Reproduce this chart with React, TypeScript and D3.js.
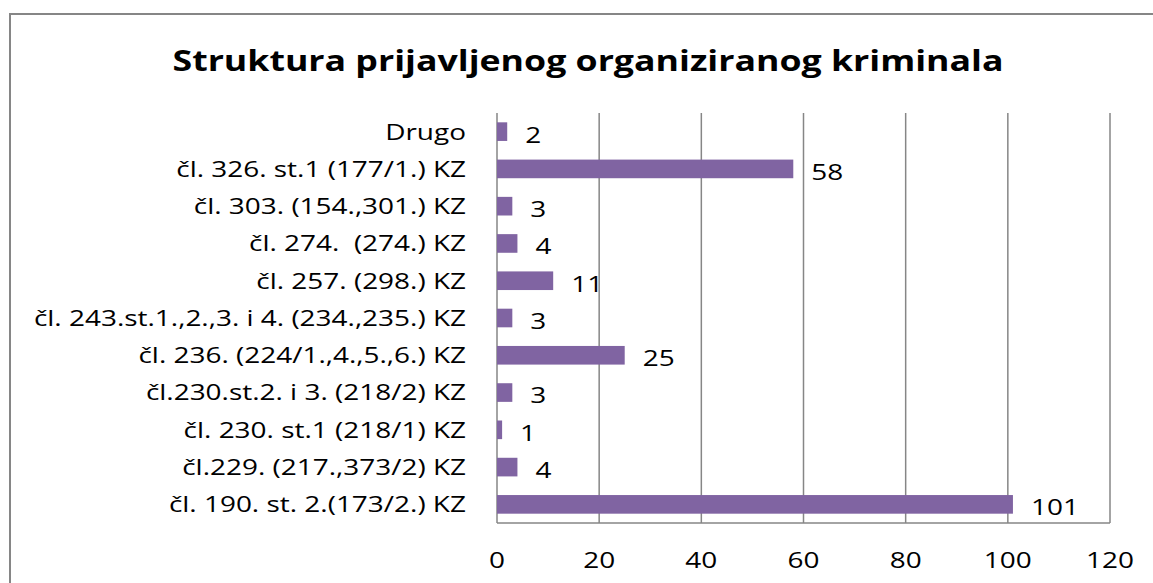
import React, { useEffect, useRef } from 'react'
import * as d3 from 'd3'

const categories = [
  'Drugo',
  'čl. 326. st.1 (177/1.) KZ',
  'čl. 303. (154.,301.) KZ',
  'čl. 274.  (274.) KZ',
  'čl. 257. (298.) KZ',
  'čl. 243.st.1.,2.,3. i 4. (234.,235.) KZ',
  'čl. 236. (224/1.,4.,5.,6.) KZ',
  'čl.230.st.2. i 3. (218/2) KZ',
  'čl. 230. st.1 (218/1) KZ',
  'čl.229. (217.,373/2) KZ',
  'čl. 190. st. 2.(173/2.) KZ',
]
const values = [2, 58, 3, 4, 11, 3, 25, 3, 1, 4, 101]
const xTicks = [0, 20, 40, 60, 80, 100, 120]
const title = 'Struktura prijavljenog organiziranog kriminala'

const App = () => {
  const ref = useRef<SVGSVGElement>(null)

  useEffect(() => {
    const W = 1153
    const H = 583
    const font = "'Open Sans', 'DejaVu Sans', sans-serif"
    const grey = '#868686'
    const fs = 22
    const stretch = 1.27 // the source font is wider than Open Sans

    const svg = d3.select(ref.current)
    svg.selectAll('*').remove()

    svg.append('rect')
      .attr('width', W).attr('height', H).attr('fill', '#fff')

    // chart frame, cut off at right and bottom
    svg.append('rect')
      .attr('x', 10).attr('y', 14)
      .attr('width', W + 20).attr('height', H + 20)
      .attr('fill', 'none').attr('stroke', grey).attr('stroke-width', 2)

    svg.append('text')
      .attr('x', 588).attr('y', 71)
      .attr('text-anchor', 'middle')
      .attr('font-family', font).attr('font-weight', 'bold').attr('font-size', 29)
      .attr('textLength', 831).attr('lengthAdjust', 'spacingAndGlyphs')
      .text(title)

    const left = 497, right = 1110, top = 113, bottom = 523

    const x = d3.scaleLinear().domain([0, 120]).range([left, right])
    const y = d3.scaleBand().domain(categories).range([top, bottom]).paddingInner(0.5).paddingOuter(0.25)

    // gridlines
    svg.append('g').selectAll('line')
      .data(xTicks.slice(1))
      .enter().append('line')
      .attr('x1', d => x(d)).attr('x2', d => x(d))
      .attr('y1', top).attr('y2', bottom)
      .attr('stroke', grey).attr('stroke-width', 1.5)

    // axes lines
    svg.append('line')
      .attr('x1', left).attr('x2', left).attr('y1', top).attr('y2', bottom)
      .attr('stroke', grey).attr('stroke-width', 1.5)
    svg.append('line')
      .attr('x1', left).attr('x2', right).attr('y1', bottom).attr('y2', bottom)
      .attr('stroke', grey).attr('stroke-width', 1.5)

    // x tick labels
    svg.append('g').attr('class', 'wide').selectAll('text')
      .data(xTicks)
      .enter().append('text')
      .attr('x', d => x(d)).attr('y', 568)
      .attr('text-anchor', 'middle')
      .text(d => d)

    // category labels
    svg.append('g').attr('class', 'wide').selectAll('text')
      .data(categories)
      .enter().append('text')
      .attr('x', 466)
      .attr('y', d => (y(d) as number) + y.bandwidth() / 2)
      .attr('dy', '0.36em')
      .attr('text-anchor', 'end')
      .style('white-space', 'pre')
      .text(d => d)

    const rows = categories.map((c, i) => ({ c, v: values[i] }))

    svg.append('g').selectAll('rect')
      .data(rows)
      .enter().append('rect')
      .attr('x', x(0))
      .attr('y', d => y(d.c) as number)
      .attr('width', d => x(d.v) - x(0))
      .attr('height', y.bandwidth())
      .attr('fill', '#8064A2')

    svg.append('g').attr('class', 'wide').selectAll('text')
      .data(rows)
      .enter().append('text')
      .attr('x', d => x(d.v) + 18)
      .attr('y', d => (y(d.c) as number) + y.bandwidth() / 2 + 3)
      .attr('dy', '0.36em')
      .text(d => d.v)

    svg.selectAll<SVGTextElement, unknown>('g.wide text')
      .attr('font-family', font).attr('font-size', fs).attr('fill', '#000')
      .each(function () {
        const len = this.getComputedTextLength()
        d3.select(this)
          .attr('textLength', len * stretch)
          .attr('lengthAdjust', 'spacingAndGlyphs')
      })
  }, [])

  return (
    <svg ref={ref} width={1153} height={583}
      style={{ position: 'absolute', left: 0, top: 0, display: 'block' }} />
  )
}

export default App
